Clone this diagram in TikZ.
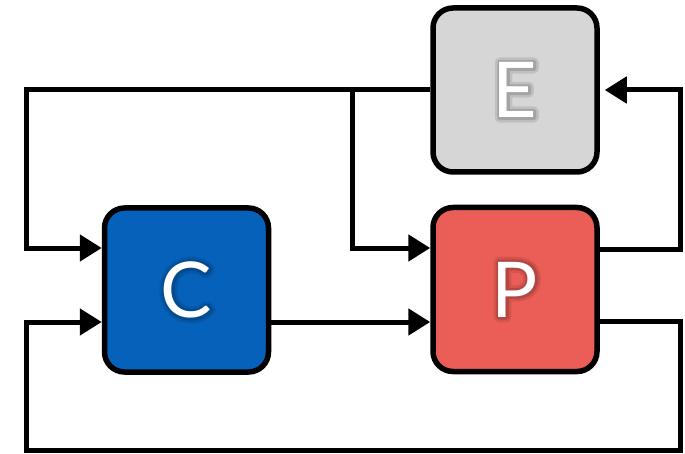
\documentclass[tikz,border=0pt]{standalone}
\usepackage{fontspec}
\setmainfont{Lato}
\usetikzlibrary{arrows.meta}
\definecolor{cblue}{RGB}{5,97,186}
\definecolor{pred}{RGB}{235,93,87}
\definecolor{egray}{RGB}{214,214,214}
% stroked copy of a letter, used for the soft dark halo
\newcommand{\halostroke}[2]{%
  \special{pdf:literal direct 1 Tr 1 j #1 w}#2\special{pdf:literal direct 0 Tr}}
\newcommand{\glowtext}[1]{%
  \tikz[baseline=(t.base)]{%
    \node[inner sep=0pt,text=black,opacity=0.10] at (0,0) {\halostroke{10}{#1}};
    \node[inner sep=0pt,text=black,opacity=0.14] at (0,0) {\halostroke{5}{#1}};
    \node[inner sep=0pt,text=white] (t) at (0,0) {#1};
  }}
\begin{document}
\begin{tikzpicture}[x=1pt,y=1pt,
  block/.style={draw=black,line width=5.5pt,rounded corners=20pt,
    minimum width=164pt,minimum height=164pt,inner sep=0pt,
    font=\fontsize{77}{77}\selectfont},
  wire/.style={draw=black,line width=5pt,line join=miter},
  arr/.style={wire,-{Triangle[length=22pt,width=26pt]}}]
\useasboundingbox (0,0) rectangle (685,453);

% the three blocks
\node[block,fill=cblue] (C) at (186.5,163) {\glowtext{C}};
\node[block,fill=pred]  (P) at (515,163.5) {\glowtext{P}};
\node[block,fill=egray] (E) at (515,363) {\glowtext{E}};

% routing points
\coordinate (tl) at (26.5,363);
\coordinate (jn) at (352,363);
\coordinate (up) at (26.5,205);
\coordinate (lo) at (26.5,131);
\coordinate (pu) at (680,204);
\coordinate (pl) at (680,132);
\coordinate (br) at (680,3);
\coordinate (bl) at (26.5,3);

% feed from E to C and P
\draw[arr] (E.west) -- (tl) -- (up) -- (up -| C.west);
\draw[arr] (jn) -- (jn |- up) -- (up -| P.west);
% C drives P
\draw[arr] (lo -| C.east) -- (lo -| P.west);
% P back to E
\draw[arr,shorten >=5pt] (pu -| P.east) -- (pu) -- (pu |- E.east) -- (E.east);
% P back to C
\draw[arr] (pl -| P.east) -- (pl) -- (br) -- (bl) -- (lo) -- (lo -| C.west);
\end{tikzpicture}
\end{document}
